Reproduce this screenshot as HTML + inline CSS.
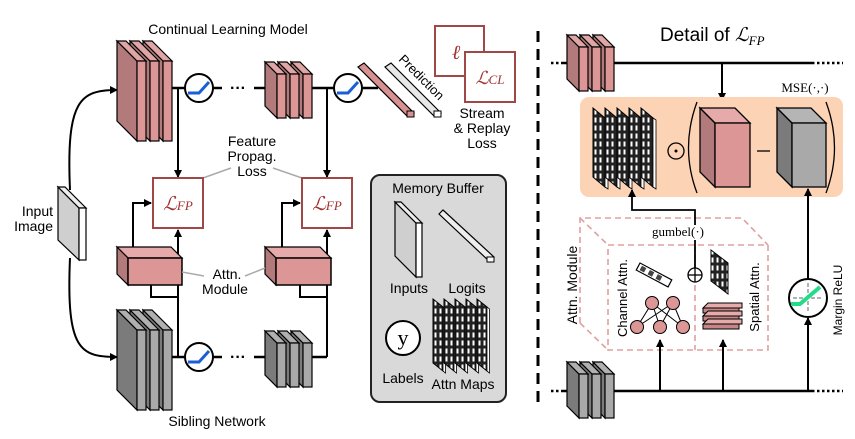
<!DOCTYPE html>
<html><head><meta charset="utf-8"><style>
html,body{margin:0;padding:0;background:#fff;}
svg{display:block;font-family:"Liberation Sans",sans-serif;}
.s{font-family:"Liberation Serif",serif;}
</style></head><body>
<svg width="855" height="439" viewBox="0 0 855 439" xmlns="http://www.w3.org/2000/svg">
<defs>
<marker id="ar" markerWidth="8" markerHeight="8" refX="7" refY="4" orient="auto" markerUnits="userSpaceOnUse"><path d="M0,0 L8,4 L0,8 z" fill="#000"/></marker>
<pattern id="grid" width="5" height="8" patternUnits="userSpaceOnUse"><rect width="5" height="8" fill="#222"/><rect x="1.5" y="1.5" width="2" height="5" fill="#fff"/></pattern>
<g id="bigP"><polygon points="0,0 20,20 20,100 0,80" fill="#b27a7a" stroke="#000" stroke-width="1.2"/><polygon points="0,0 9,0 29,20 20,20" fill="#e0a6a6" stroke="#000" stroke-width="1.2"/><rect x="20" y="20" width="9" height="80" fill="#dc9696" stroke="#000" stroke-width="1.2"/></g>
<g id="bigG"><polygon points="0,0 20,20 20,100 0,80" fill="#7b7b7b" stroke="#000" stroke-width="1.2"/><polygon points="0,0 9,0 29,20 20,20" fill="#b0b0b0" stroke="#000" stroke-width="1.2"/><rect x="20" y="20" width="9" height="80" fill="#a9a9a9" stroke="#000" stroke-width="1.2"/></g>
<g id="smP"><polygon points="0,0 12,12 12,56 0,44" fill="#b27a7a" stroke="#000" stroke-width="1.2"/><polygon points="0,0 9,0 21,12 12,12" fill="#e0a6a6" stroke="#000" stroke-width="1.2"/><rect x="12" y="12" width="9" height="44" fill="#dc9696" stroke="#000" stroke-width="1.2"/></g>
<g id="smG"><polygon points="0,0 12,12 12,56 0,44" fill="#7b7b7b" stroke="#000" stroke-width="1.2"/><polygon points="0,0 9,0 21,12 12,12" fill="#b0b0b0" stroke="#000" stroke-width="1.2"/><rect x="12" y="12" width="9" height="44" fill="#a9a9a9" stroke="#000" stroke-width="1.2"/></g>
<g id="relu"><circle r="14" fill="#fff" stroke="#000" stroke-width="2"/><path d="M-11,5 L0,5 L10,-6" fill="none" stroke="#1a5fd6" stroke-width="3"/></g>
<g id="amapS"><polygon points="0,0 10,8 10,72 0,64" fill="url(#grid)" stroke="#000" stroke-width="1"/><polygon points="10,8 12.5,10 12.5,74 10,72" fill="#fff" stroke="#000" stroke-width="0.8"/></g>
<g id="amapB"><polygon points="0,0 12,10 12,79 0,69" fill="url(#grid)" stroke="#000" stroke-width="1"/><polygon points="12,10 15,12 15,81 12,79" fill="#fff" stroke="#000" stroke-width="0.8"/></g>
</defs>

<text x="228" y="34" font-size="14" text-anchor="middle">Continual Learning Model</text>
<text x="217" y="426" font-size="14" text-anchor="middle">Sibling Network</text>

<path d="M70,190 C66,100 80,90 117,90" fill="none" stroke="#000" stroke-width="2" marker-end="url(#ar)"/>
<path d="M70,258 C66,350 80,357 117,357" fill="none" stroke="#000" stroke-width="2" marker-end="url(#ar)"/>
<polygon points="58,187 79,208 79,260 58,240" fill="#cfcfcf" stroke="#000" stroke-width="1.2"/>
<polygon points="58,187 65,187 86,208 79,208" fill="#eee" stroke="#000" stroke-width="1.2"/>
<rect x="79" y="208" width="7" height="52" fill="#fff" stroke="#000" stroke-width="1.2"/>
<text x="53" y="216" font-size="14" text-anchor="end">Input</text>
<text x="53" y="231" font-size="14" text-anchor="end">Image</text>

<line x1="171" y1="88" x2="185" y2="88" stroke="#000" stroke-width="2.5"/>
<line x1="213" y1="88" x2="222" y2="88" stroke="#000" stroke-width="2.5"/>
<text x="238" y="93" font-size="16" text-anchor="middle" font-weight="bold">···</text>
<line x1="254" y1="88" x2="270" y2="88" stroke="#000" stroke-width="2.5"/>
<line x1="311" y1="88" x2="334" y2="88" stroke="#000" stroke-width="2.5"/>
<line x1="362" y1="88" x2="378" y2="88" stroke="#000" stroke-width="2.5"/>
<use href="#bigP" x="143" y="41"/><use href="#bigP" x="130" y="41"/><use href="#bigP" x="117" y="41"/>
<use href="#smP" x="291" y="62"/><use href="#smP" x="278" y="62"/><use href="#smP" x="265" y="62"/>
<use href="#relu" x="199" y="88"/><use href="#relu" x="348" y="88"/>
<polygon points="358,67 364,63 414,113 408,117" fill="#d99090" stroke="#000" stroke-width="1.2"/>
<rect x="407" y="111" width="7" height="6" fill="#d99090" stroke="#000" stroke-width="1"/>
<polygon points="385,67 391,63 441,113 435,117" fill="#e8e8e8" stroke="#000" stroke-width="1.2"/>
<rect x="434" y="111" width="7" height="6" fill="#fff" stroke="#000" stroke-width="1"/>
<text x="0" y="0" font-size="13" transform="translate(398,60) rotate(45)">Prediction</text>
<rect x="435" y="26" width="49" height="50" fill="#fff" stroke="#a04848" stroke-width="2"/>
<text x="456" y="59" font-size="20" class="s" font-style="italic" fill="#a03030" text-anchor="middle">ℓ</text>
<rect x="465" y="52" width="50" height="50" fill="#fff" stroke="#a04848" stroke-width="2"/>
<text x="490" y="84" font-size="18" class="s" font-style="italic" fill="#a03030" text-anchor="middle">ℒ<tspan font-size="13">CL</tspan></text>
<text x="482" y="118" font-size="14" text-anchor="middle">Stream</text>
<text x="482" y="133" font-size="14" text-anchor="middle">&amp; Replay</text>
<text x="482" y="148" font-size="14" text-anchor="middle">Loss</text>

<line x1="178" y1="88" x2="178" y2="177" stroke="#000" stroke-width="2" marker-end="url(#ar)"/>
<line x1="327" y1="88" x2="327" y2="177" stroke="#000" stroke-width="2" marker-end="url(#ar)"/>
<text x="252" y="146" font-size="14" text-anchor="middle">Feature</text>
<text x="252" y="161" font-size="14" text-anchor="middle">Propag.</text>
<text x="252" y="176" font-size="14" text-anchor="middle">Loss</text>
<line x1="203" y1="178" x2="231" y2="168" stroke="#aaa" stroke-width="1.5"/>
<line x1="273" y1="168" x2="302" y2="178" stroke="#aaa" stroke-width="1.5"/>
<rect x="153" y="178" width="50" height="50" fill="#fff" stroke="#a04848" stroke-width="2"/>
<text x="178" y="210" font-size="19" class="s" font-style="italic" fill="#a03030" text-anchor="middle">ℒ<tspan font-size="13">FP</tspan></text>
<rect x="302" y="178" width="50" height="50" fill="#fff" stroke="#a04848" stroke-width="2"/>
<text x="327" y="210" font-size="19" class="s" font-style="italic" fill="#a03030" text-anchor="middle">ℒ<tspan font-size="13">FP</tspan></text>

<polyline points="133,249 133,203 151,203" fill="none" stroke="#000" stroke-width="2" marker-end="url(#ar)"/>
<polyline points="282,249 282,203 300,203" fill="none" stroke="#000" stroke-width="2" marker-end="url(#ar)"/>
<line x1="178" y1="357" x2="178" y2="230" stroke="#000" stroke-width="2" marker-end="url(#ar)"/>
<line x1="327" y1="357" x2="327" y2="230" stroke="#000" stroke-width="2" marker-end="url(#ar)"/>
<polyline points="151,285 151,297 178,297" fill="none" stroke="#000" stroke-width="2"/>
<polyline points="300,285 300,297 327,297" fill="none" stroke="#000" stroke-width="2"/>
<polygon points="117,247 171,247 182,258 128,258" fill="#e6aaaa" stroke="#000" stroke-width="1.2"/>
<polygon points="117,247 128,258 128,285 117,274" fill="#b27a7a" stroke="#000" stroke-width="1.2"/>
<rect x="128" y="258" width="54" height="27" fill="#dc9696" stroke="#000" stroke-width="1.5"/>
<polygon points="265,247 320,247 331,258 276,258" fill="#e6aaaa" stroke="#000" stroke-width="1.2"/>
<polygon points="265,247 276,258 276,285 265,274" fill="#b27a7a" stroke="#000" stroke-width="1.2"/>
<rect x="276" y="258" width="55" height="27" fill="#dc9696" stroke="#000" stroke-width="1.5"/>
<text x="227" y="279" font-size="14" text-anchor="middle">Attn.</text>
<text x="225" y="294" font-size="14" text-anchor="middle">Module</text>
<line x1="182" y1="272" x2="204" y2="276" stroke="#aaa" stroke-width="1.5"/>
<line x1="245" y1="276" x2="265" y2="268" stroke="#aaa" stroke-width="1.5"/>

<line x1="171" y1="357" x2="185" y2="357" stroke="#000" stroke-width="2.5"/>
<line x1="213" y1="357" x2="222" y2="357" stroke="#000" stroke-width="2.5"/>
<text x="238" y="362" font-size="16" text-anchor="middle" font-weight="bold">···</text>
<line x1="254" y1="357" x2="270" y2="357" stroke="#000" stroke-width="2.5"/>
<line x1="311" y1="357" x2="327" y2="357" stroke="#000" stroke-width="2.5"/>
<use href="#bigG" x="143" y="310"/><use href="#bigG" x="130" y="310"/><use href="#bigG" x="117" y="310"/>
<use href="#smG" x="291" y="331"/><use href="#smG" x="278" y="331"/><use href="#smG" x="265" y="331"/>
<use href="#relu" x="199" y="357"/>

<rect x="371" y="175" width="135" height="227" rx="9" fill="#d9d9d9" stroke="#222" stroke-width="2"/>
<text x="438" y="193" font-size="14" text-anchor="middle">Memory Buffer</text>
<polygon points="395,202 416,223 416,277 395,256" fill="#cfcfcf" stroke="#000" stroke-width="1.2"/>
<polygon points="395,202 401,202 422,223 416,223" fill="#eee" stroke="#000" stroke-width="1.2"/>
<rect x="416" y="223" width="6" height="54" fill="#fff" stroke="#000" stroke-width="1.2"/>
<polygon points="439,214 443,210 494,257 490,262" fill="#eee" stroke="#000" stroke-width="1.2"/>
<rect x="487" y="257" width="7" height="5" fill="#fff" stroke="#000" stroke-width="1"/>
<text x="409" y="293" font-size="14" text-anchor="middle">Inputs</text>
<text x="467" y="293" font-size="14" text-anchor="middle">Logits</text>
<circle cx="403" cy="338" r="17" fill="#fff" stroke="#000" stroke-width="2"/>
<text x="403" y="345" font-size="22" class="s" text-anchor="middle">y</text>
<text x="403" y="383" font-size="14" text-anchor="middle">Labels</text>
<use href="#amapS" x="433" y="299"/><use href="#amapS" x="444" y="299"/><use href="#amapS" x="455" y="299"/><use href="#amapS" x="466" y="299"/><use href="#amapS" x="477" y="299"/>
<text x="463" y="389" font-size="14" text-anchor="middle">Attn Maps</text>

<line x1="538" y1="31" x2="538" y2="405" stroke="#000" stroke-width="3" stroke-dasharray="11,7"/>

<text x="660" y="41" font-size="19">Detail of <tspan class="s" font-style="italic">ℒ<tspan font-size="13" dy="4">FP</tspan></tspan></text>
<line x1="551" y1="63" x2="562" y2="63" stroke="#000" stroke-width="2.5" stroke-dasharray="2.5,2.5"/>
<line x1="562" y1="63" x2="812" y2="63" stroke="#000" stroke-width="2.5"/>
<line x1="812" y1="63" x2="843" y2="63" stroke="#000" stroke-width="2.5" stroke-dasharray="2.5,2.5"/>
<use href="#smP" x="593" y="35"/><use href="#smP" x="580" y="35"/><use href="#smP" x="567" y="35"/>
<line x1="722" y1="63" x2="722" y2="100" stroke="#000" stroke-width="2" marker-end="url(#ar)"/>
<text x="805" y="92" font-size="13" class="s" text-anchor="middle">MSE(·,·)</text>
<rect x="580" y="97" width="263" height="100" rx="9" fill="#fdd3b5"/>
<use href="#amapB" x="593" y="108"/><use href="#amapB" x="605" y="108"/><use href="#amapB" x="617" y="108"/><use href="#amapB" x="629" y="108"/><use href="#amapB" x="641" y="108"/>
<circle cx="676" cy="151" r="8" fill="none" stroke="#000" stroke-width="1.3"/><circle cx="676" cy="151" r="1.5" fill="#000"/>
<path d="M697,102 Q680,148 697,193" fill="none" stroke="#000" stroke-width="1.3"/>
<path d="M826,102 Q843,148 826,193" fill="none" stroke="#000" stroke-width="1.3"/>
<polygon points="700,108 715,123 715,187 700,172" fill="#b27a7a" stroke="#000" stroke-width="1.3"/>
<polygon points="700,108 735,108 750,123 715,123" fill="#e6aaaa" stroke="#000" stroke-width="1.3"/>
<rect x="715" y="123" width="35" height="64" fill="#dc9696" stroke="#000" stroke-width="1.3"/>
<line x1="757" y1="151" x2="770" y2="151" stroke="#000" stroke-width="1.3"/>
<polygon points="777,108 792,123 792,187 777,172" fill="#7b7b7b" stroke="#000" stroke-width="1.3"/>
<polygon points="777,108 811,108 826,123 792,123" fill="#b5b5b5" stroke="#000" stroke-width="1.3"/>
<rect x="792" y="123" width="34" height="64" fill="#a9a9a9" stroke="#000" stroke-width="1.3"/>

<g fill="none" stroke="#e0a0a0" stroke-width="1.6" stroke-dasharray="6,4">
<polyline points="580,323 580,218 742,218 768,245"/>
<line x1="580" y1="218" x2="608" y2="245"/>
<line x1="580" y1="323" x2="608" y2="350"/>
<rect x="608" y="245" width="160" height="105"/>
<line x1="695" y1="245" x2="695" y2="350"/>
</g>
<polyline points="695,268 695,210 632,210 632,190" fill="none" stroke="#000" stroke-width="1.8" marker-end="url(#ar)"/>
<circle cx="695" cy="275" r="7" fill="#fff" stroke="#000" stroke-width="1.3"/>
<line x1="688" y1="275" x2="702" y2="275" stroke="#000" stroke-width="1.3"/><line x1="695" y1="268" x2="695" y2="282" stroke="#000" stroke-width="1.3"/>
<rect x="650" y="225" width="58" height="15" fill="#fff"/>
<text x="678" y="236" font-size="13" class="s" text-anchor="middle">gumbel(·)</text>
<text x="0" y="0" font-size="14" text-anchor="middle" transform="translate(577,285) rotate(-90)">Attn. Module</text>
<text x="0" y="0" font-size="13" text-anchor="middle" transform="translate(627,298) rotate(-90)">Channel Attn.</text>
<text x="0" y="0" font-size="13" text-anchor="middle" transform="translate(759,297) rotate(-90)">Spatial Attn.</text>
<g transform="translate(640,263) rotate(28)">
<rect x="0" y="0" width="36" height="8" fill="#fff" stroke="#000" stroke-width="1.2"/>
<rect x="3" y="1.5" width="5" height="5" fill="#444"/><rect x="12" y="1.5" width="5" height="5" fill="#444"/><rect x="21" y="1.5" width="5" height="5" fill="#444"/>
</g>
<g stroke="#000" stroke-width="1">
<line x1="652" y1="303" x2="637" y2="327"/><line x1="652" y1="303" x2="660" y2="327"/><line x1="652" y1="303" x2="683" y2="327"/>
<line x1="673" y1="303" x2="637" y2="327"/><line x1="673" y1="303" x2="660" y2="327"/><line x1="673" y1="303" x2="683" y2="327"/>
</g>
<g fill="#dc9696" stroke="#000" stroke-width="1">
<circle cx="652" cy="303" r="6.5"/><circle cx="673" cy="303" r="6.5"/>
<circle cx="637" cy="327" r="6.5"/><circle cx="660" cy="327" r="6.5"/><circle cx="683" cy="327" r="6.5"/>
</g>
<polygon points="711,250 728,263 728,294 711,281" fill="url(#grid)" stroke="#000" stroke-width="1"/>
<g stroke="#000" stroke-width="1">
<polygon points="703,308 708,303 742,303 742,308" fill="#e6aaaa"/><rect x="703" y="308" width="36" height="5" fill="#c48686"/>
<polygon points="703,316 708,311 742,311 742,316" fill="#e6aaaa"/><rect x="703" y="316" width="36" height="5" fill="#c48686"/>
<polygon points="703,324 708,319 742,319 742,324" fill="#e6aaaa"/><rect x="703" y="324" width="36" height="5" fill="#c48686"/>
</g>

<line x1="551" y1="391" x2="562" y2="391" stroke="#000" stroke-width="2.5" stroke-dasharray="2.5,2.5"/>
<line x1="562" y1="391" x2="812" y2="391" stroke="#000" stroke-width="2.5"/>
<line x1="812" y1="391" x2="843" y2="391" stroke="#000" stroke-width="2.5" stroke-dasharray="2.5,2.5"/>
<use href="#smG" x="593" y="362"/><use href="#smG" x="580" y="362"/><use href="#smG" x="567" y="362"/>
<line x1="660" y1="391" x2="660" y2="340" stroke="#000" stroke-width="2" marker-end="url(#ar)"/>
<line x1="723" y1="391" x2="723" y2="340" stroke="#000" stroke-width="2" marker-end="url(#ar)"/>
<line x1="808" y1="391" x2="808" y2="318" stroke="#000" stroke-width="2" marker-end="url(#ar)"/>
<line x1="808" y1="278" x2="808" y2="189" stroke="#000" stroke-width="2" marker-end="url(#ar)"/>
<circle cx="808" cy="298" r="19" fill="#fff" stroke="#000" stroke-width="2"/>
<line x1="793" y1="298" x2="823" y2="298" stroke="#999" stroke-width="1.5" stroke-dasharray="4,2"/>
<line x1="808" y1="283" x2="808" y2="313" stroke="#999" stroke-width="1.5" stroke-dasharray="4,2"/>
<path d="M791,304 L800,304 L820,287" fill="none" stroke="#22dd88" stroke-width="4"/>
<text x="0" y="0" font-size="12" text-anchor="middle" transform="translate(842,300) rotate(-90)">Margin ReLU</text>
</svg>
</body></html>
